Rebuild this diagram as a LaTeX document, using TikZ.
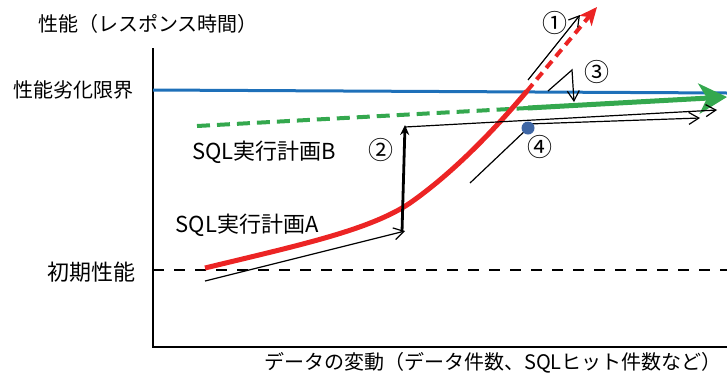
\documentclass[tikz,border=0pt]{standalone}
\usepackage{fontspec}
\setmainfont{Noto Sans CJK JP}
\usetikzlibrary{arrows.meta}
\definecolor{limitblue}{RGB}{30,112,185}
\definecolor{planred}{RGB}{236,36,36}
\definecolor{plangreen}{RGB}{52,168,78}
\definecolor{pointblue}{RGB}{62,102,165}

\begin{document}
\begin{tikzpicture}[x=1pt,y=-1pt,
    font=\fontsize{20}{22}\selectfont,
    thinarrow/.style={line width=1.2pt,-{Straight Barb[length=10pt,width=12pt]}},
    planlabel/.style={font=\fontsize{22}{24}\selectfont},
    stepmark/.style={font=\fontsize{25}{26}\selectfont}]
\useasboundingbox (0,0) rectangle (727,381);
% axes and levels
\draw[line width=2.5pt] (153,48) -- (153,347) -- (727,347);
\draw[line width=2.5pt,dash pattern=on 11pt off 10pt] (153,270) -- (727,270);
\draw[limitblue,line width=3pt] (153,90) -- (727,93);
\node[anchor=west,inner sep=0pt] (ylabel) at (38,24) {性能（レスポンス時間）};
\node[anchor=east] (limit) at (137,90) {性能劣化限界};
\node[anchor=east,planlabel] (initial) at (139,272) {初期性能};
\node (xlabel) at (493,363) {データの変動（データ件数、SQLヒット件数など）};
% plan B
\coordinate (bstart) at (197,126);
\coordinate (bswitch) at (528,108);
\coordinate (bend) at (727,97);
\draw[plangreen,line width=4pt,dash pattern=on 13pt off 7pt] (bstart) -- (bswitch);
\draw[plangreen,line width=5pt,-{Stealth[length=28pt,width=30pt,inset=8pt]}] (bswitch) -- (bend);
\node[planlabel] (planB) at (264,152) {SQL実行計画B};
% plan A
\coordinate (astart) at (205,268);
\coordinate (ashift) at (527,91);
\coordinate (atip) at (597,7);
\draw[planred,line width=5pt] (astart) .. controls (300,245) and (370,230) .. (410,203)
    .. controls (450,175) and (490,135) .. (ashift);
\draw[planred,line width=4pt,dash pattern=on 9pt off 6pt,
    -{Stealth[length=18pt,width=16pt,inset=5pt]}] (ashift) -- (atip);
\node[planlabel] (planA) at (247,225) {SQL実行計画A};
% steps
\draw[thinarrow] (205,281) -- (405,231);
\draw[line width=2.8pt,-{Stealth[length=10pt,width=9pt]}] (402,232) -- (405,125);
\draw[thinarrow] (405,127) -- (717,110);
\draw[thinarrow] (528,124) -- (700,118);
\draw[thinarrow] (528,80) -- (580,15);
\draw[thinarrow] (548,91) -- (572,70) -- (574,102);
\draw[line width=1.2pt] (470,183) -- (528,128);
\node[circle,fill=pointblue,inner sep=0pt,minimum size=13pt] (point) at (528,128) {};
\node[stepmark] (one) at (555,23) {①};
\node[stepmark] (two) at (381,150) {②};
\node[stepmark] (three) at (597,72) {③};
\node[stepmark] (four) at (540,147) {④};
\end{tikzpicture}
\end{document}
